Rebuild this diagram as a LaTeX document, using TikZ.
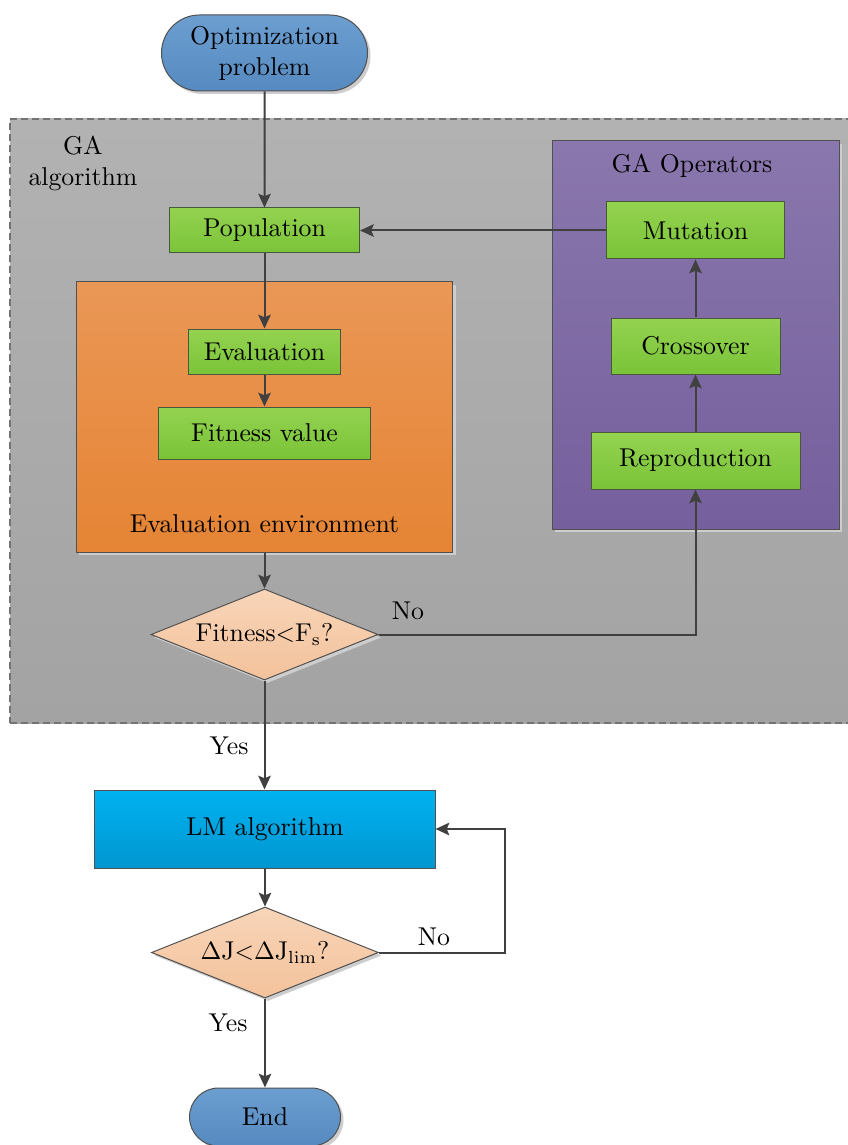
\documentclass[tikz,border=0pt]{standalone}
\usetikzlibrary{shapes.geometric,shapes.misc,shadows,arrows.meta}

\definecolor{edgegray}{RGB}{80,80,80}
\definecolor{conncol}{RGB}{64,64,64}
\definecolor{shadowgray}{RGB}{205,205,205}
\definecolor{blueA}{RGB}{108,158,208}
\definecolor{blueB}{RGB}{86,138,192}
\definecolor{grayA}{RGB}{178,178,178}
\definecolor{grayB}{RGB}{163,163,163}
\definecolor{greenA}{RGB}{148,210,80}
\definecolor{greenB}{RGB}{122,196,56}
\definecolor{greenedge}{RGB}{72,88,60}
\definecolor{orangeA}{RGB}{234,151,86}
\definecolor{orangeB}{RGB}{229,132,52}
\definecolor{purpleA}{RGB}{138,119,173}
\definecolor{purpleB}{RGB}{117,95,157}
\definecolor{peachA}{RGB}{248,213,185}
\definecolor{peachB}{RGB}{243,194,155}
\definecolor{cyanA}{RGB}{0,178,240}
\definecolor{cyanB}{RGB}{0,150,208}

\begin{document}
\begin{tikzpicture}[x=0.4pt,y=-0.4pt,
  every node/.style={font=\fontsize{10.3}{12.4}\selectfont},
  base/.style={draw=edgegray, line width=0.4pt, inner sep=0pt, align=center},
  shad/.style={drop shadow={shadow xshift=1.2pt, shadow yshift=-1.2pt, fill=shadowgray, opacity=1}},
  term/.style={base, rounded rectangle, top color=blueA, bottom color=blueB, shad},
  greenbox/.style={base, rectangle, draw=greenedge, top color=greenA, bottom color=greenB},
  decision/.style={base, diamond, shape aspect=2.5, top color=peachA, bottom color=peachB, shad,
    minimum width=90.8pt, minimum height=36.4pt},
  conn/.style={draw=conncol, line width=0.8pt, -{Stealth[length=5.5pt,width=5pt,inset=1pt]}},
  lbl/.style={inner sep=0pt, align=center}]

\useasboundingbox (0,0) rectangle (847,1145);

% start terminal
\node[term, minimum width=82.4pt, minimum height=30.4pt] (start) at (264.5,53)
  {Optimization\\problem};

% GA region
\node[base, draw=black!55, line width=0.6pt, dash pattern=on 2.8pt off 1.6pt,
  top color=grayA, bottom color=grayB, minimum width=336pt, minimum height=241.6pt]
  (ga) at (430,421) {};
\node[lbl] (galbl) at (83,163) {GA\\algorithm};

% evaluation environment
\node[base, rectangle, top color=orangeA, bottom color=orangeB, shad,
  minimum width=150.4pt, minimum height=108pt] (env) at (264.5,417) {};
\node[lbl] (envlbl) at (264.5,524) {Evaluation environment};

% GA operators
\node[base, rectangle, top color=purpleA, bottom color=purpleB, shad,
  minimum width=114.8pt, minimum height=155.2pt] (ops) at (695.5,335) {};
\node[lbl] (opslbl) at (692,166) {GA Operators};

% process boxes
\node[greenbox, minimum width=76pt, minimum height=18pt] (pop) at (264.5,230.5) {Population};
\node[greenbox, minimum width=60.8pt, minimum height=18pt] (eval) at (264.5,351.5) {Evaluation};
\node[greenbox, minimum width=84.8pt, minimum height=20.8pt] (fit) at (264.5,433) {Fitness value};
\node[greenbox, minimum width=71.2pt, minimum height=22.8pt] (mut) at (695.5,230.5) {Mutation};
\node[greenbox, minimum width=67.6pt, minimum height=22.4pt] (cross) at (695.5,346) {Crossover};
\node[greenbox, minimum width=83.6pt, minimum height=22.8pt] (rep) at (695.5,460.5) {Reproduction};

% decisions and the LM stage
\node[decision] (d1) at (264.5,634.5) {Fitness$<$F$_{\mathrm{s}}$?};
\node[base, rectangle, top color=cyanA, bottom color=cyanB,
  minimum width=136pt, minimum height=31.2pt] (lm) at (265,829) {LM algorithm};
\node[decision] (d2) at (265,952.5) {$\Delta$J$<$$\Delta$J$_{\mathrm{lim}}$?};
\node[term, minimum width=60.4pt, minimum height=23.2pt] (end) at (265,1117) {End};

% connectors
\draw[conn] (start) -- (pop);
\draw[conn] (pop) -- (eval);
\draw[conn] (eval) -- (fit);
\draw[conn] (env) -- (d1);
\draw[conn] (d1.east) -| (rep.south);
\draw[conn] (rep) -- (cross);
\draw[conn] (cross) -- (mut);
\draw[conn] (mut) -- (pop);
\draw[conn] (d1.south) -- (lm.north -| d1.south);
\draw[conn] (lm) -- (d2);
\coordinate (loop) at (505,952.5);
\draw[conn] (d2.east) -- (loop) |- (lm.east);
\draw[conn] (d2.south) -- (end.north);

% branch labels
\node[lbl] (no1) at (408,611) {No};
\node[lbl] (yes1) at (229,746) {Yes};
\node[lbl] (no2) at (434,937) {No};
\node[lbl] (yes2) at (228,1023) {Yes};
\end{tikzpicture}
\end{document}
